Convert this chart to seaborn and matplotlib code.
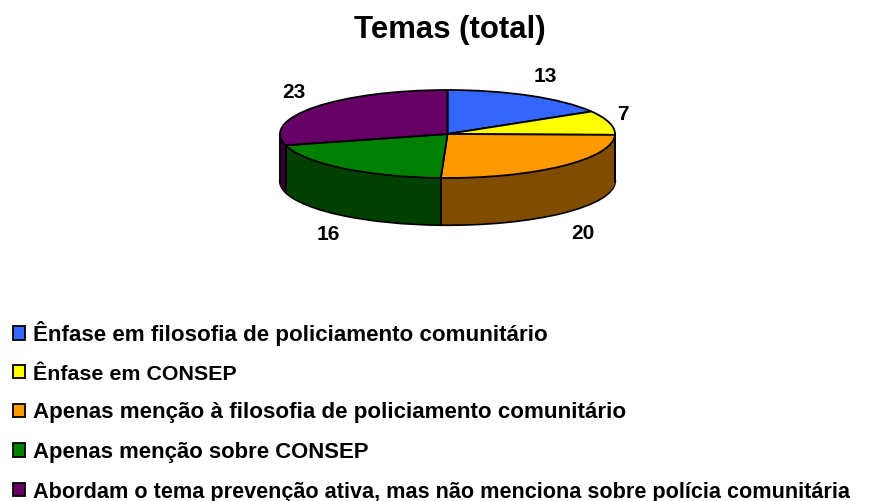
import numpy as np
import matplotlib
matplotlib.use("Agg")
import matplotlib.pyplot as plt
from matplotlib.patches import Patch
import seaborn as sns

title = "Temas (total)"
categories = [
    "Ênfase em filosofia de policiamento comunitário",
    "Ênfase em CONSEP",
    "Apenas menção à filosofia de policiamento comunitário",
    "Apenas menção sobre CONSEP",
    "Abordam o tema prevenção ativa, mas não menciona sobre polícia comunitária",
]
values = [13, 7, 20, 16, 23]
colors = ["#3366FF", "#FFFF00", "#FF9900", "#008000", "#660066"]

sns.set_theme(style="white")
plt.rcParams["font.family"] = ["Liberation Sans", "DejaVu Sans"]

W, H = 882, 501
fig = plt.figure(figsize=(W / 100, H / 100), dpi=100)

# pie box in pixels, the y squash comes from the axes shape
left, right, top, rim = 280, 615, 90, 178
depth_px = 47
ry = (rim - top) / 2
depth = depth_px / ry
ax = fig.add_axes([left / W, 1 - (rim + depth_px) / H, (right - left) / W, (rim - top + depth_px) / H])

top_cols = sns.color_palette(colors)
side_cols = [tuple(c * 0.5 for c in col) for col in top_cols]

# side wall: stack of darker pies going down
for i, d in enumerate(np.linspace(depth, 0, depth_px, endpoint=False)):
    wedges, _ = ax.pie(values, colors=side_cols, startangle=90, counterclock=False,
                       center=(0, -d), radius=1, normalize=True,
                       wedgeprops=dict(linewidth=1.6 if i == 0 else 0.6,
                                       edgecolor="black" if i == 0 else None))
    if i > 0:
        for w, c in zip(wedges, side_cols):
            w.set_edgecolor(c)
    for w in wedges:
        w.set_clip_on(False)

# vertical seams on the front of the wall
cum = np.cumsum(values) / np.sum(values) * 2 * np.pi
for a in cum:
    if np.cos(a) < 0:
        ax.plot([np.sin(a)] * 2, [np.cos(a), np.cos(a) - depth], color="black", lw=1.3, clip_on=False, zorder=3)
for sx in (-1, 1):
    ax.plot([sx, sx], [0, -depth], color="black", lw=1.3, clip_on=False, zorder=3)

wedges, _ = ax.pie(values, colors=top_cols, startangle=90, counterclock=False,
                   center=(0, 0), radius=1, normalize=True,
                   wedgeprops=dict(linewidth=1.3, edgecolor="black", zorder=4))
for w in wedges:
    w.set_clip_on(False)

ax.set_aspect("auto")
ax.set_xlim(-1, 1)
ax.set_ylim(-1 - depth, 1)
ax.axis("off")

fig.text(449.5 / W, 1 - 30 / H, title, fontsize=22.4, fontweight="bold", ha="center", va="center", color="black")

label_pos = [(545, 76.5), (623, 115), (583, 233), (328, 235), (294, 92.5)]
for v, (x, y) in zip(values, label_pos):
    fig.text(x / W, 1 - y / H, str(v), fontsize=15, fontweight="bold", ha="center", va="center", color="black")

handles = [Patch(facecolor=c, edgecolor="black", linewidth=1.3) for c in top_cols]
leg = fig.legend(handles, categories, loc="upper left", bbox_to_anchor=(13 / W, 1 - 321 / H),
                 frameon=False, borderpad=0, borderaxespad=0,
                 labelspacing=0.83, handlelength=0.53, handleheight=0.53, handletextpad=0.36,
                 labelcolor="black", prop=dict(weight="bold", size=16.2))
# the rows are not equally tracked in the original, so each gets its own size
for txt, size in zip(leg.get_texts(), [16.1, 15.4, 16.1, 15.9, 15.55]):
    txt.set_fontsize(size)

fig.savefig("out.png", dpi=100)
